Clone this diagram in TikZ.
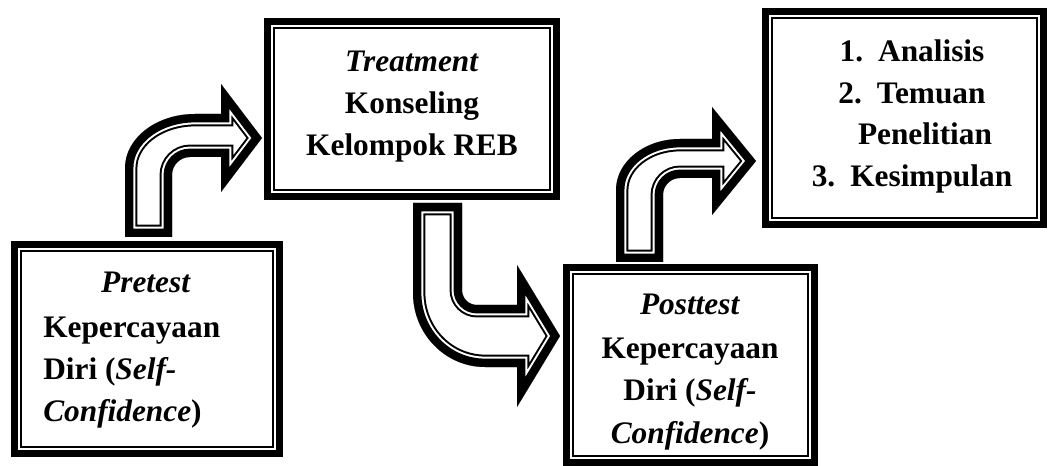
\documentclass[tikz,border=0pt]{standalone}
\usepackage{fontspec}
\setmainfont{Liberation Serif}
\tikzset{
  boxframe/.style={draw=black, line width=5.4pt, fill=white, outer sep=0pt, inner sep=0pt},
  innerline/.style={draw=black, line width=1.5pt},
  lbl/.style={inner sep=0pt, font=\bfseries\fontsize{23.5}{28}\selectfont},
  mitred/.style={line join=miter, miter limit=20}
}
\newcommand\framedarrow[1]{%
  \fill[white] #1;
  \begin{scope}
    \clip #1;
    \draw[black, line width=18.6pt, mitred] #1;
    \draw[white, line width=15.6pt, mitred] #1;
    \draw[black, line width=12.6pt, mitred] #1;
  \end{scope}}
\begin{document}
\begin{tikzpicture}[x=0.75pt, y=-0.75pt]
\useasboundingbox (0,0) rectangle (1048,466);
\fill[white] (0,0) rectangle (1048,466);

% arrows
\framedarrow{(125,237) -- (125,168) .. controls (125,138.2) and (156.3,114) .. (195,114) -- (221,114) -- (221,84) -- (262,138) -- (221,192) -- (221,157) -- (190,157) .. controls (180.1,157) and (172,165.1) .. (172,175) -- (172,237) -- cycle}
\framedarrow{(413,203) -- (462,203) -- (462,290) .. controls (462,298.3) and (468.7,305) .. (477,305) -- (517,305) -- (517,265) -- (560,336) -- (517,407) -- (517,367) -- (485,367) .. controls (445.2,367) and (413,333.9) .. (413,293) -- cycle}
\framedarrow{(616,262) -- (616,190) .. controls (616,161.8) and (644.7,139) .. (680,139) -- (712,139) -- (712,107) -- (756,161) -- (712,215) -- (712,178) -- (680,178) .. controls (670.6,178) and (663,185.6) .. (663,195) -- (663,262) -- cycle}

% boxes
\node[boxframe, minimum width=198.6pt, minimum height=156.6pt] (b1) at (147,349) {};
\node[boxframe, minimum width=216.6pt, minimum height=131.1pt] (b2) at (412,109) {};
\node[boxframe, minimum width=185.85pt, minimum height=146.1pt] (b3) at (690.5,365) {};
\node[boxframe, minimum width=208.35pt, minimum height=159.6pt] (b4) at (904.5,118) {};
\foreach \b in {b1,b2,b3,b4}{
  \draw[innerline] ([shift={(6.6,6.6)}]\b.north west) rectangle ([shift={(-6.6,-6.6)}]\b.south east);
}

% box 1 text
\node[lbl, anchor=base] (p1) at (146,293) {\textit{Pretest}};
\node[lbl, anchor=base west] (p2) at (43,337) {Kepercayaan};
\node[lbl, anchor=base west] (p3) at (43,379) {Diri (\textit{Self-}};
\node[lbl, anchor=base west] (p4) at (43,421) {\textit{Confidence})};

% box 2 text
\node[lbl, anchor=base] (t1) at (412,71.5) {\textit{Treatment}};
\node[lbl, anchor=base] (t2) at (412,113.5) {Konseling};
\node[lbl, anchor=base] (t3) at (412,155.5) {Kelompok REB};

% box 3 text
\node[lbl, anchor=base] (q1) at (690,315) {\textit{Posttest}};
\node[lbl, anchor=base] (q2) at (690,358) {Kepercayaan};
\node[lbl, anchor=base] (q3) at (690,400) {Diri (\textit{Self-}};
\node[lbl, anchor=base] (q4) at (690,443) {\textit{Confidence})};

% box 4 text
\node[lbl, anchor=base] (i1) at (912,62) {1.\hspace{0.48em}Analisis};
\node[lbl, anchor=base] (i2) at (912,104) {2.\hspace{0.48em}Temuan};
\node[lbl, anchor=base] (i2b) at (925,145) {Penelitian};
\node[lbl, anchor=base] (i3) at (912,187) {3.\hspace{0.48em}Kesimpulan};
\end{tikzpicture}
\end{document}
